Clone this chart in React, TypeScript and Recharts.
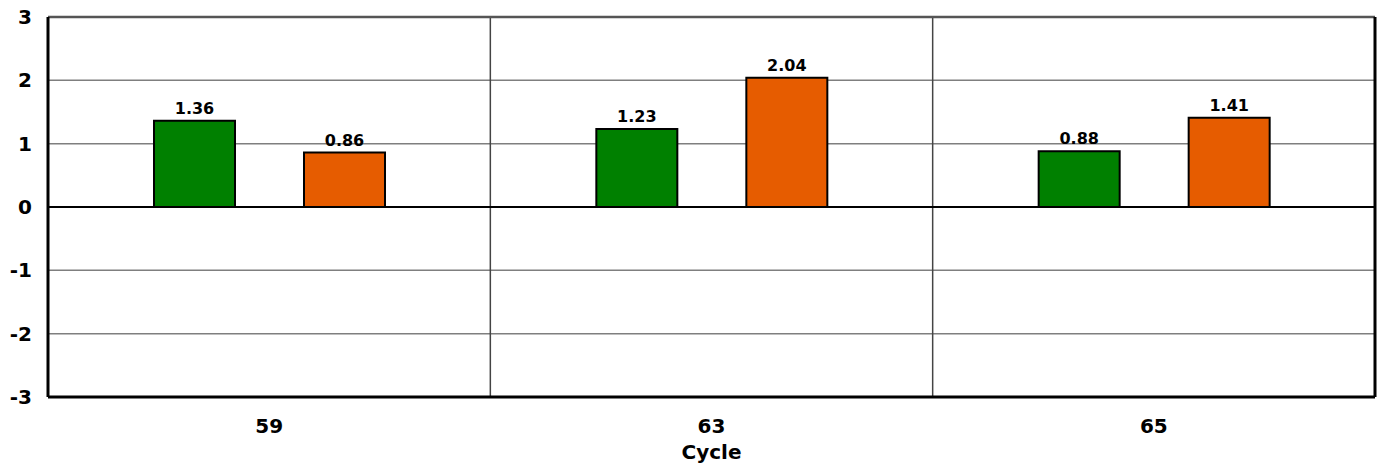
import { BarChart, Bar, XAxis, YAxis, CartesianGrid, ReferenceLine, LabelList } from 'recharts';

const cycles = ['59', '63', '65'];
const greenValues = [1.36, 1.23, 0.88];
const orangeValues = [0.86, 2.04, 1.41];
const yTicks = [-3, -2, -1, 0, 1, 2, 3];

const data = cycles.map((cycle, i) => ({
  cycle,
  green: greenValues[i],
  orange: orangeValues[i],
}));

const font = '"DejaVu Sans", sans-serif';
const tickStyle = { fill: '#000', fontSize: 20, fontWeight: 700, fontFamily: font };
const labelStyle = { fill: '#000', fontSize: 16, fontWeight: 700, fontFamily: font };

export default function App() {
  return (
    <div style={{ position: 'absolute', left: 0, top: 0, background: '#fff' }}>
      <BarChart
        width={1377}
        height={471}
        data={data}
        margin={{ top: 17, right: 0, left: 0, bottom: 0 }}
        barSize={81}
        barGap={69}
      >
        <CartesianGrid vertical={false} stroke="#7f7f7f" strokeWidth={1.5} />
        <CartesianGrid
          horizontal={false}
          stroke="#444"
          strokeWidth={1.5}
          verticalCoordinatesGenerator={({ offset }: any) => [
            offset.left + offset.width / 3,
            offset.left + (2 * offset.width) / 3,
          ]}
        />
        <XAxis
          dataKey="cycle"
          height={74}
          axisLine={{ stroke: '#000', strokeWidth: 3 }}
          tickLine={false}
          tickMargin={16}
          tick={tickStyle}
          label={{
            value: 'Cycle',
            position: 'insideBottom',
            offset: 12,
            ...tickStyle,
          }}
        />
        <YAxis
          width={48}
          domain={[-3, 3]}
          ticks={yTicks}
          interval={0}
          axisLine={{ stroke: '#000', strokeWidth: 3 }}
          tickLine={false}
          tickSize={0}
          tickMargin={16}
          tickFormatter={(v: number) => String(v)}
          tick={tickStyle}
        />
        <YAxis
          yAxisId="right"
          orientation="right"
          width={2}
          domain={[-3, 3]}
          ticks={yTicks}
          tick={false}
          tickLine={false}
          axisLine={{ stroke: '#000', strokeWidth: 3 }}
        />
        <ReferenceLine y={3} stroke="#555" strokeWidth={2.5} />
        <ReferenceLine y={0} stroke="#000" strokeWidth={2} />
        <Bar dataKey="green" fill="#008000" stroke="#000" strokeWidth={2} isAnimationActive={false}>
          <LabelList
            dataKey="green"
            position="top"
            offset={7}
            formatter={(v: any) => Number(v).toFixed(2)}
            style={labelStyle}
          />
        </Bar>
        <Bar dataKey="orange" fill="#e65c00" stroke="#000" strokeWidth={2} isAnimationActive={false}>
          <LabelList
            dataKey="orange"
            position="top"
            offset={7}
            formatter={(v: any) => Number(v).toFixed(2)}
            style={labelStyle}
          />
        </Bar>
      </BarChart>
    </div>
  );
}
